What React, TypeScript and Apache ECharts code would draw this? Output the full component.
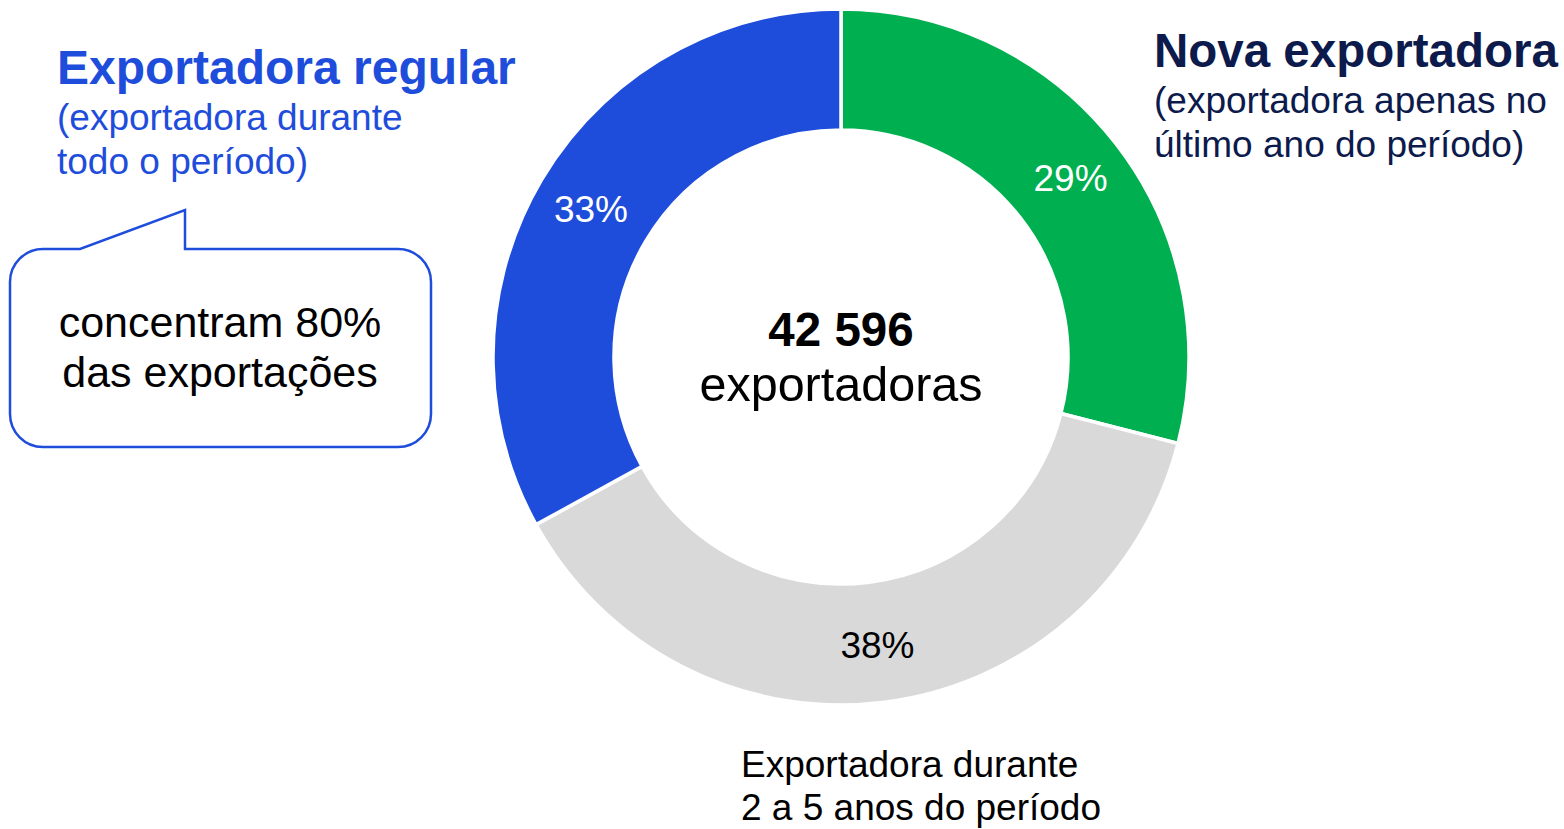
import React, { useEffect, useRef } from "react";
import * as echarts from "echarts";

const categories = ["Nova exportadora", "Exportadora durante 2 a 5 anos", "Exportadora regular"];
const shares = [29, 38, 33];
const sliceColors = ["#00B050", "#D9D9D9", "#1F4DDB"];
const labelColors = ["#FFFFFF", "#000000", "#FFFFFF"];

const totalLabel = "42 596";
const totalUnit = "exportadoras";
const regularTitle = "Exportadora regular";
const regularSub = ["(exportadora durante", "todo o período)"];
const newTitle = "Nova exportadora";
const newSub = ["(exportadora apenas no", "último ano do período)"];
const calloutLines = ["concentram 80%", "das exportações"];
const middleLabel = ["Exportadora durante", "2 a 5 anos do período"];

const FONT = "'Liberation Sans', Arial, sans-serif";
const BLUE = "#1F4DDB";
const NAVY = "#0C1A4C";

const calloutPath =
  "M 43 249 L 80 249 L 185 210 L 185 249 L 398 249 C 416.2 249 431 263.8 431 282 L 431 414 C 431 432.2 416.2 447 398 447 L 43 447 C 24.8 447 10 432.2 10 414 L 10 282 C 10 263.8 24.8 249 43 249 Z";

function txt(text: string, x: number, y: number, size: number, color: string, weight = "normal", align = "left") {
  return {
    type: "text",
    x,
    y,
    silent: true,
    style: {
      text,
      fill: color,
      fontSize: size,
      fontWeight: weight,
      fontFamily: FONT,
      textAlign: align,
      textVerticalAlign: "middle",
    },
  };
}

export default function App() {
  const ref = useRef<HTMLDivElement>(null);
  useEffect(() => {
    if (!ref.current) return;
    echarts.graphic.registerShape("callout", echarts.graphic.extendPath(calloutPath, {}));
    const chart = echarts.init(ref.current, null, { renderer: "svg" });
    chart.setOption({
      animation: false,
      backgroundColor: "#FFFFFF",
      series: [
        {
          type: "pie",
          center: [841, 357],
          radius: [227, 348],
          startAngle: 90,
          clockwise: true,
          silent: true,
          itemStyle: { borderColor: "#FFFFFF", borderWidth: 3.5 },
          label: {
            show: true,
            position: "inside",
            formatter: "{c}%",
            fontSize: 37,
            fontFamily: FONT,
          },
          labelLine: { show: false },
          data: categories.map((name, i) => ({
            name,
            value: shares[i],
            itemStyle: { color: sliceColors[i] },
            label: { color: labelColors[i] },
          })),
        },
      ],
      graphic: [
        {
          type: "callout",
          x: 0,
          y: 0,
          silent: true,
          style: { fill: "#FFFFFF", stroke: BLUE, lineWidth: 2.5 },
        },
        txt(totalLabel, 841, 329.5, 47.5, "#000000", "bold", "center"),
        txt(totalUnit, 841, 384, 48.5, "#000000", "normal", "center"),
        txt(regularTitle, 57, 67.5, 48, BLUE, "bold"),
        txt(regularSub[0], 57, 117, 37, BLUE),
        txt(regularSub[1], 57, 161, 37, BLUE),
        txt(newTitle, 1154, 50.5, 47.5, NAVY, "bold"),
        txt(newSub[0], 1154, 100, 37, NAVY),
        txt(newSub[1], 1154, 144, 37, NAVY),
        txt(calloutLines[0], 220, 321.6, 43, "#000000", "normal", "center"),
        txt(calloutLines[1], 220, 371.6, 43, "#000000", "normal", "center"),
        txt(middleLabel[0], 741, 764, 37, "#000000"),
        txt(middleLabel[1], 741, 807, 37, "#000000"),
      ],
    });
    return () => chart.dispose();
  }, []);
  return (
    <div
      ref={ref}
      style={{ position: "fixed", left: 0, top: 0, width: 1564, height: 829, background: "#fff" }}
    />
  );
}
